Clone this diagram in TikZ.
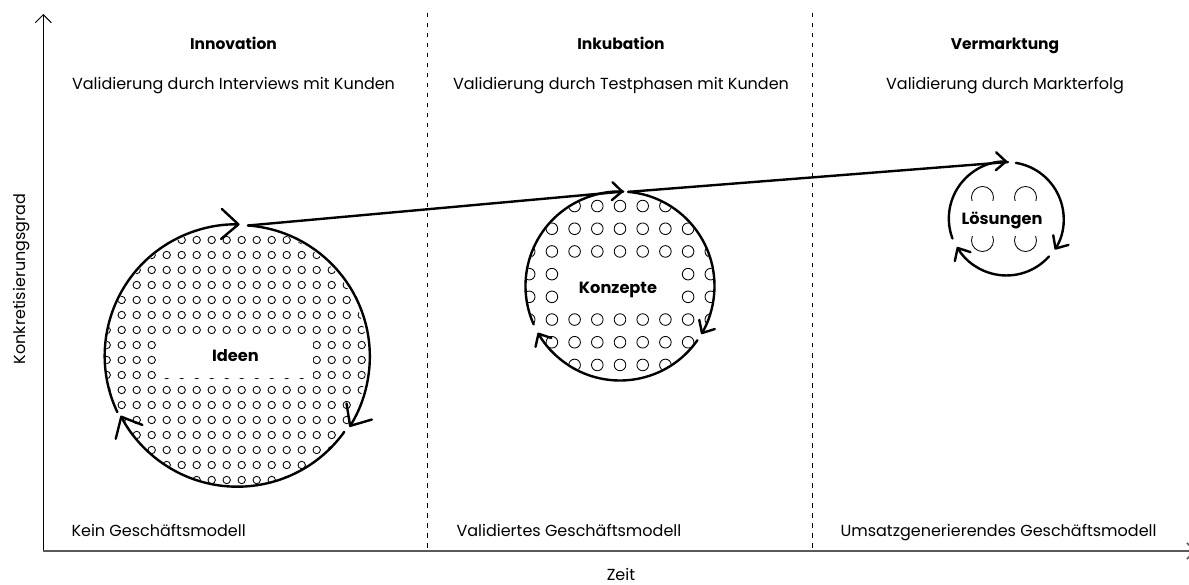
\documentclass[tikz,border=0pt]{standalone}
\usepackage{fontspec}
\setmainfont{Poppins}
\usetikzlibrary{arrows.meta}
\begin{document}
\begin{tikzpicture}[x=1pt,y=-1pt,
  ring/.style={circle, draw=none, inner sep=0pt, outer sep=0pt},
  ringline/.style={line width=2.4pt, line cap=round},
  bigtip/.style={-{Straight Barb[length=17pt,width=30pt,round]}},
  smalltip/.style={-{Straight Barb[length=10pt,width=18pt,round]}},
  dotc/.style={line width=0.85pt},
  lbl/.style={fill=white, inner sep=0pt, font=\bfseries\fontsize{16.2}{18}\selectfont, text height=11pt, text depth=0pt},
  headtxt/.style={font=\bfseries\fontsize{15.5}{17}\selectfont, anchor=base},
  subtxt/.style={font=\fontsize{16}{18}\selectfont, anchor=base},
  bottxt/.style={font=\fontsize{16}{18}\selectfont, anchor=base west},
  axisline/.style={line width=1pt, -{Straight Barb[length=8pt,width=16pt]}},
  sep/.style={line width=1.2pt, dash pattern=on 4.5pt off 5.5pt},
]
\useasboundingbox (0,0) rectangle (1189,585);

% axes
\coordinate (origin) at (43.3,551);
\coordinate (ytop) at (43.3,14);
\coordinate (xend) at (1196,551);
\draw[axisline] (origin) -- (ytop);
\draw[axisline, black!65, line width=1.5pt] (origin) -- (xend);

% phase separators
\coordinate (s1t) at (427.7,13);
\coordinate (s1b) at (427.7,551);
\coordinate (s2t) at (812.3,13);
\coordinate (s2b) at (812.3,551);
\draw[sep] (s1t) -- (s1b);
\draw[sep] (s2t) -- (s2b);

% headers
\node[headtxt] (h1) at (233.5,49.5) {Innovation};
\node[subtxt] (v1) at (233.5,89.3) {Validierung durch Interviews mit Kunden};
\node[headtxt] (h2) at (621,49.5) {Inkubation};
\node[subtxt] (v2) at (621,89.3) {Validierung durch Testphasen mit Kunden};
\node[headtxt] (h3) at (1005,49.5) {Vermarktung};
\node[subtxt] (v3) at (1005,89.3) {Validierung durch Markterfolg};

% bottom texts
\node[bottxt] (b1) at (68,536) {Kein Geschäftsmodell};
\node[bottxt] (b2) at (453,536) {Validiertes Geschäftsmodell};
\node[bottxt] (b3) at (837,536) {Umsatzgenerierendes Geschäftsmodell};

% axis labels
\node[subtxt, inner sep=0.5pt, text depth=0pt] (xlab) at (621,580) {Zeit};
\node[subtxt, rotate=90] (ylab) at (25,279) {Konkretisierungsgrad};

% circles (invisible reference nodes)
\node[ring, minimum size=263pt] (ideen) at (236.5,356.5) {};
\node[ring, minimum size=189pt] (konzepte) at (620,286) {};
\node[ring, minimum size=114pt] (loesungen) at (1006,219) {};

% dot patterns
\begin{scope}
  \clip (ideen.center) circle (130.3);
  \foreach \i in {0,...,17} \foreach \j in {0,...,16}
    \draw[dotc] (106.7+15*\i, 240+15*\j) circle (3.7);
\end{scope}
\begin{scope}
  \clip (konzepte.center) circle (93.3);
  \foreach \i in {-4,...,4} \foreach \j in {-3,...,4}
    \draw[dotc] (620+22.7*\i, 274.15+22.7*\j) circle (5.8);
\end{scope}
\begin{scope}
  \clip (loesungen.center) circle (55.8);
  \foreach \i in {0,1} \foreach \j in {0,1}
    \draw[dotc] (982.5+43*\i, 197.5+43*\j) circle (11);
\end{scope}

% labels with white background
\node[lbl, minimum width=155pt, minimum height=44pt] (lideen) at (235.5,356) {Ideen};
\node[lbl, minimum width=116pt, minimum height=50pt] (lkonzepte) at (618,288) {Konzepte};
\node[lbl, minimum width=80pt, minimum height=35pt] (lloesungen) at (1002,219) {Lösungen};

% cycle arcs
\draw[ringline, bigtip] (ideen.85.8) arc[start angle=-85.8, end angle=32.3, radius=131.5];
\draw[ringline, bigtip] (ideen.-35.7) arc[start angle=35.7, end angle=152.6, radius=131.5];
\draw[ringline, bigtip] (ideen.205.3) arc[start angle=154.7, end angle=271.5, radius=131.5];

\draw[ringline, smalltip] (konzepte.85) arc[start angle=-85, end angle=30.6, radius=94.5];
\draw[ringline, smalltip] (konzepte.-35) arc[start angle=35, end angle=150.4, radius=94.5];
\draw[ringline, smalltip] (konzepte.204) arc[start angle=156, end angle=272, radius=94.5];

\draw[ringline, smalltip] (loesungen.80.7) arc[start angle=-80.7, end angle=32.3, radius=57];
\draw[ringline, smalltip] (loesungen.-41.7) arc[start angle=41.7, end angle=150.1, radius=57];
\draw[ringline, smalltip] (loesungen.200.5) arc[start angle=159.5, end angle=271.3, radius=57];

% connectors
\draw[ringline] (ideen.85.8) -- (konzepte.88);
\draw[ringline] (konzepte.85) -- (loesungen.88.7);
\end{tikzpicture}
\end{document}
